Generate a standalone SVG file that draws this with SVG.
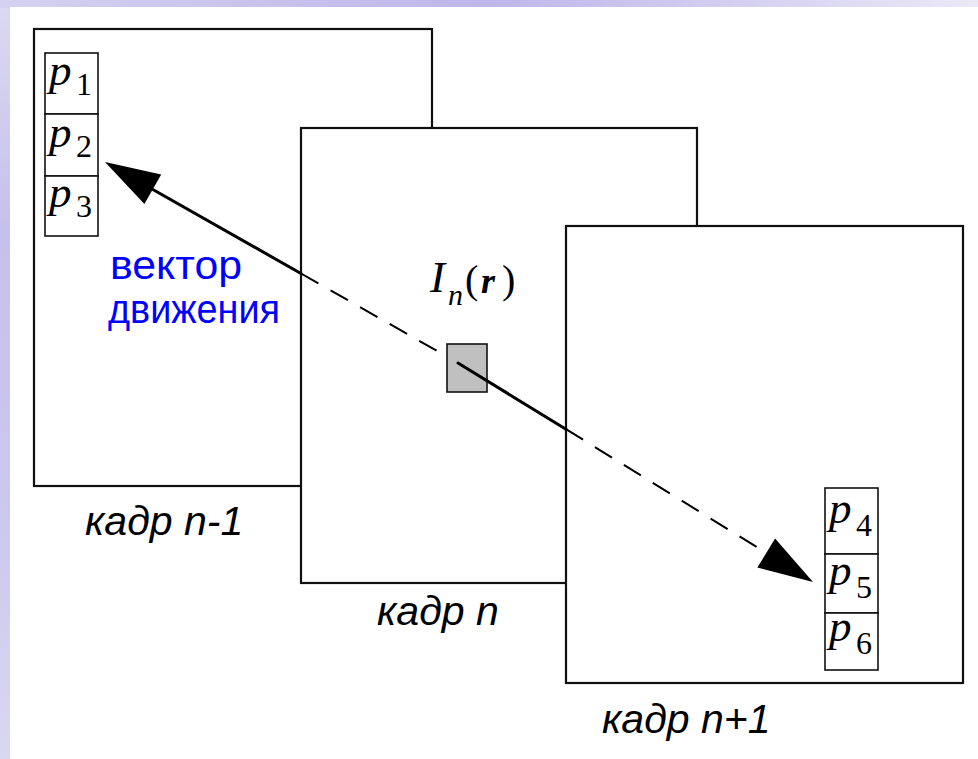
<svg xmlns="http://www.w3.org/2000/svg" width="978" height="759" viewBox="0 0 978 759">
<defs>
<linearGradient id="topg" x1="0" y1="0" x2="1" y2="0">
<stop offset="0" stop-color="#d4d1f0"/>
<stop offset="0.5" stop-color="#bfb6ea"/>
<stop offset="0.8" stop-color="#d8d4f2"/>
<stop offset="1" stop-color="#ebe9f7"/>
</linearGradient>
<linearGradient id="leftg" x1="0" y1="0" x2="0" y2="1">
<stop offset="0" stop-color="#dcd9f2"/>
<stop offset="0.3" stop-color="#c6c0ec"/>
<stop offset="0.7" stop-color="#cdc8ee"/>
<stop offset="1" stop-color="#dad7f2"/>
</linearGradient>
<style>
.frame{fill:#fff;stroke:#111;stroke-width:2.2}
.cell{fill:#fff;stroke:#111;stroke-width:1.6}
.math{font-family:"Liberation Serif","Times New Roman",serif;fill:#000}
.it{font-style:italic}
.lbl{font-family:"Liberation Sans",Arial,sans-serif;font-style:italic;font-size:41px;fill:#000}
.blue{font-family:"Liberation Sans",Arial,sans-serif;font-size:40px;fill:#0000ff}
.solid{stroke:#000;stroke-width:3;fill:none;stroke-linecap:round}
.dash{stroke:#000;stroke-width:2;fill:none;stroke-dasharray:20 14}
.head{fill:#000}
</style>
</defs>
<rect x="0" y="0" width="978" height="759" fill="url(#leftg)"/>
<rect x="0" y="0" width="978" height="8" fill="url(#topg)"/>
<rect x="10" y="7" width="968" height="752" fill="#fff"/>

<g id="frame-n-1">
<rect class="frame" x="34" y="29" width="398" height="457"/>
<g id="p-cells-left">
<rect class="cell" x="45" y="53" width="53" height="61"/>
<rect class="cell" x="45" y="114" width="53" height="62"/>
<rect class="cell" x="45" y="176" width="53" height="60"/>
<text class="math" x="49" y="85"><tspan class="it" font-size="45">p</tspan><tspan font-size="32" x="76" y="95">1</tspan></text>
<text class="math" x="49" y="147"><tspan class="it" font-size="45">p</tspan><tspan font-size="32" x="76" y="157">2</tspan></text>
<text class="math" x="49" y="207"><tspan class="it" font-size="45">p</tspan><tspan font-size="32" x="76" y="217">3</tspan></text>
</g>
<text class="blue" x="110" y="279" textLength="132" lengthAdjust="spacingAndGlyphs">вектор</text>
<text class="blue" x="108" y="323" textLength="172" lengthAdjust="spacingAndGlyphs">движения</text>
</g>

<g id="frame-n">
<rect class="frame" x="301" y="128" width="396" height="455"/>
<rect id="pixel" x="447" y="344" width="40" height="48" fill="#c0c0c0" stroke="#111" stroke-width="1.6"/>
<text class="math" y="292"><tspan class="it" x="430" font-size="45">I</tspan><tspan class="it" x="448" y="305" font-size="30">n</tspan><tspan x="465" y="293" font-size="40">(</tspan><tspan x="481" font-weight="bold" class="it" font-size="36">r</tspan><tspan x="502" font-size="40">)</tspan></text>
</g>

<g id="frame-n1">
<rect class="frame" x="566" y="226" width="397" height="457"/>
<g id="p-cells-right">
<rect class="cell" x="825" y="488" width="53" height="66"/>
<rect class="cell" x="825" y="554" width="53" height="59"/>
<rect class="cell" x="825" y="613" width="53" height="57"/>
<text class="math" x="829" y="523"><tspan class="it" font-size="45">p</tspan><tspan font-size="32" x="856" y="536">4</tspan></text>
<text class="math" x="829" y="585"><tspan class="it" font-size="45">p</tspan><tspan font-size="32" x="856" y="598">5</tspan></text>
<text class="math" x="829" y="641"><tspan class="it" font-size="45">p</tspan><tspan font-size="32" x="856" y="654">6</tspan></text>
</g>
</g>

<g id="labels">
<text class="lbl" x="85" y="535">кадр n-1</text>
<text class="lbl" x="377" y="625">кадр n</text>
<text class="lbl" x="602" y="733">кадр n+1</text>
</g>

<g id="connectors">
<line class="solid" x1="152" y1="189" x2="301" y2="273.5"/>
<line class="dash" x1="301" y1="273.5" x2="447" y2="356.6"/>
<polygon class="head" points="105,162 161.2,174.4 144.4,204"/>
<line class="solid" x1="458" y1="363" x2="566" y2="429.2" stroke-width="3.5"/>
<line class="dash" x1="566" y1="429.2" x2="768" y2="554"/>
<polygon class="head" points="813,582 757.3,567.6 775.1,538.6"/>
</g>
</svg>
